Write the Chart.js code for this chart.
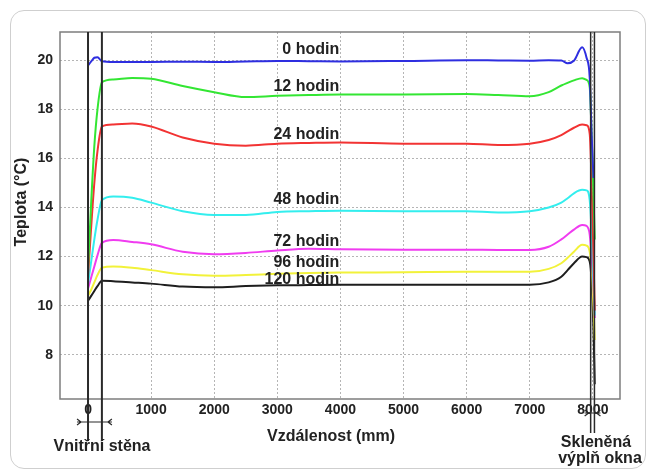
<!DOCTYPE html>
<html>
<head>
<meta charset="utf-8">
<script src="https://cdn.jsdelivr.net/npm/chart.js@4.4.1/dist/chart.umd.min.js"></script>
<style>
html, body { margin: 0; padding: 0; background: #fff; }
#wrap { position: relative; width: 648px; height: 476px; }
#card { position: absolute; left: 10px; top: 10px; width: 634px; height: 457px; border: 1px solid #cfcfcf; border-radius: 14px; }
canvas { position: absolute; left: 0; top: 0; }
</style>
</head>
<body>
<div id="wrap"><div id="card"></div><canvas id="canvas" width="648" height="476"></canvas></div>
<script>
// vzdalenost od vnitrni steny (mm)
const distance = [0, 50, 100, 150, 220, 400, 700, 1000, 1500, 2000, 2500, 3000, 3500, 4000, 5000, 6000, 6500, 7000, 7300, 7500, 7600, 7700, 7830, 7900, 7950, 7980, 8010, 8030];

// teploty (°C) pro jednotlive casy
const t0   = [19.78, 19.95, 20.1, 20.12, 19.96, 19.93, 19.93, 19.93, 19.94, 19.93, 19.95, 19.97, 19.96, 19.95, 19.97, 20.0, 19.99, 19.98, 20.0, 19.99, 19.88, 19.98, 20.53, 20.1, 19.3, 17.0, 15.2, null];
const t12  = [11.5, 14.2, 16.5, 18.0, 19.1, 19.22, 19.28, 19.25, 18.95, 18.7, 18.5, 18.55, 18.58, 18.6, 18.6, 18.62, 18.58, 18.53, 18.7, 18.97, 19.08, 19.18, 19.27, 19.2, 18.9, 17.0, 14.5, 12.7];
const t24  = [11.2, 13.2, 15.0, 16.3, 17.3, 17.38, 17.42, 17.3, 16.85, 16.6, 16.52, 16.6, 16.63, 16.65, 16.6, 16.6, 16.55, 16.6, 16.75, 16.95, 17.1, 17.25, 17.38, 17.35, 17.0, 15.0, 12.0, 9.8];
const t48  = [10.9, 11.8, 12.7, 13.5, 14.3, 14.45, 14.4, 14.2, 13.85, 13.7, 13.7, 13.82, 13.85, 13.87, 13.85, 13.85, 13.8, 13.85, 14.0, 14.2, 14.38, 14.58, 14.72, 14.7, 14.3, 13.0, 11.0, 9.6];
const t72  = [10.7, 11.15, 11.6, 12.05, 12.56, 12.68, 12.6, 12.5, 12.2, 12.1, 12.15, 12.25, 12.32, 12.3, 12.28, 12.28, 12.27, 12.27, 12.4, 12.7, 12.9, 13.1, 13.29, 13.25, 12.9, 12.0, 10.8, 9.5];
const t96  = [10.4, 10.65, 10.95, 11.25, 11.55, 11.6, 11.55, 11.45, 11.28, 11.22, 11.25, 11.3, 11.33, 11.35, 11.36, 11.38, 11.38, 11.38, 11.5, 11.73, 11.95, 12.2, 12.48, 12.45, 12.2, 11.5, 10.0, 8.6];
const t120 = [10.2, 10.4, 10.6, 10.8, 11.02, 11.0, 10.95, 10.9, 10.78, 10.75, 10.8, 10.83, 10.84, 10.85, 10.85, 10.85, 10.85, 10.85, 10.95, 11.18, 11.45, 11.73, 12.0, 11.98, 11.8, 11.0, 9.0, 6.8];

const seriesNames = ['0 hodin', '12 hodin', '24 hodin', '48 hodin', '72 hodin', '96 hodin', '120 hodin'];
const seriesColors = ['#2e2ee0', '#33e633', '#f23333', '#33eeee', '#f03cf0', '#f2f23a', '#1e1e1e'];
const labelY = [20.44, 18.93, 16.97, 14.31, 12.6, 11.74, 11.05]; // kde lezi popisky krivek

const xTicks = [0, 1000, 2000, 3000, 4000, 5000, 6000, 7000, 8000];
const yTicks = [8, 10, 12, 14, 16, 18, 20];

const wallX = [0, 220];      // vnitrni stena
const glassX = [7965, 8025]; // sklenena vypln

const allSeries = [t0, t12, t24, t48, t72, t96, t120];
const FONT = '"Liberation Sans", Arial, sans-serif';

const overlay = {
    id: 'overlay',
    afterDraw(chart) {
        const { ctx, chartArea: a, scales: { x, y } } = chart;
        ctx.save();
        // ramecek grafu
        ctx.strokeStyle = '#7d7d7d';
        ctx.lineWidth = 1.5;
        ctx.strokeRect(a.left, a.top, a.right - a.left, a.bottom - a.top);

        // svisle cary steny a skla
        ctx.strokeStyle = '#2a2a2a';
        ctx.lineWidth = 2;
        const vline = (px, bottom) => {
            ctx.beginPath(); ctx.moveTo(px, a.top); ctx.lineTo(px, bottom); ctx.stroke();
        };
        wallX.forEach(v => vline(x.getPixelForValue(v), 441));
        ctx.lineWidth = 1.5;
        glassX.forEach(v => vline(x.getPixelForValue(v), 433));

        // sipky (kota)
        ctx.lineWidth = 1.2;
        const w0 = x.getPixelForValue(wallX[0]), w1 = x.getPixelForValue(wallX[1]);
        ctx.beginPath();
        ctx.moveTo(w0 - 11, 422); ctx.lineTo(w1 + 10, 422);
        ctx.moveTo(w0 - 11, 419); ctx.lineTo(w0 - 7, 422); ctx.lineTo(w0 - 11, 425);
        ctx.moveTo(w1 + 10, 419); ctx.lineTo(w1 + 6, 422); ctx.lineTo(w1 + 10, 425);
        const g0 = x.getPixelForValue(glassX[0]), g1 = x.getPixelForValue(glassX[1]);
        ctx.moveTo(g0 - 6, 413); ctx.lineTo(g1 + 6, 413);
        ctx.moveTo(g0 - 6, 410); ctx.lineTo(g0 - 2, 413); ctx.lineTo(g0 - 6, 416);
        ctx.moveTo(g1 + 6, 410); ctx.lineTo(g1 + 2, 413); ctx.lineTo(g1 + 6, 416);
        ctx.stroke();

        // popisky
        ctx.fillStyle = '#222';
        ctx.font = 'bold 16px ' + FONT;
        ctx.textBaseline = 'middle';
        ctx.textAlign = 'right';
        seriesNames.forEach((n, i) => {
            ctx.fillText(n, x.getPixelForValue(3980), y.getPixelForValue(labelY[i]));
        });
        ctx.textAlign = 'center';
        ctx.fillText('Vzdálenost (mm)', 331, 437);
        ctx.fillText('Vnitřní stěna', 102, 447);
        ctx.fillText('Skleněná', 596, 443);
        ctx.fillText('výplň okna', 600, 459);
        ctx.translate(22, 202);
        ctx.rotate(-Math.PI / 2);
        ctx.fillText('Teplota (°C)', 0, 0);
        ctx.restore();
    }
};

const ctx = document.getElementById('canvas').getContext('2d');
const myChart = new Chart(ctx, {
    type: 'line',
    data: {
        datasets: allSeries.map((s, i) => ({
            label: seriesNames[i],
            data: distance.map((d, j) => ({ x: d, y: s[j] })),
            borderColor: seriesColors[i],
            borderWidth: 2,
            pointRadius: 0,
            cubicInterpolationMode: 'monotone',
            fill: false
        }))
    },
    options: {
        responsive: false,
        animation: false,
        layout: { padding: { top: 32, right: 28, bottom: 47, left: 0 } },
        plugins: {
            legend: { display: false },
            tooltip: { enabled: false }
        },
        scales: {
            x: {
                type: 'linear',
                min: -444,
                max: 8430,
                afterFit: s => { s.height = 30; },
                afterBuildTicks: s => { s.ticks = xTicks.map(v => ({ value: v })); },
                grid: { color: '#b5b5b5', drawTicks: false },
                border: { display: false, dash: [2, 2] },
                ticks: {
                    padding: 3,
                    color: '#222',
                    font: { family: FONT, size: 14, weight: 'bold' },
                    callback: v => String(v)
                }
            },
            y: {
                min: 6.2,
                max: 21.15,
                afterFit: s => { s.width = 60; },
                afterBuildTicks: s => { s.ticks = yTicks.map(v => ({ value: v })); },
                grid: { color: '#b5b5b5', drawTicks: false },
                border: { display: false, dash: [2, 2] },
                ticks: {
                    padding: 7,
                    color: '#222',
                    font: { family: FONT, size: 14, weight: 'bold' }
                }
            }
        }
    },
    plugins: [overlay]
});
</script>
</body>
</html>
